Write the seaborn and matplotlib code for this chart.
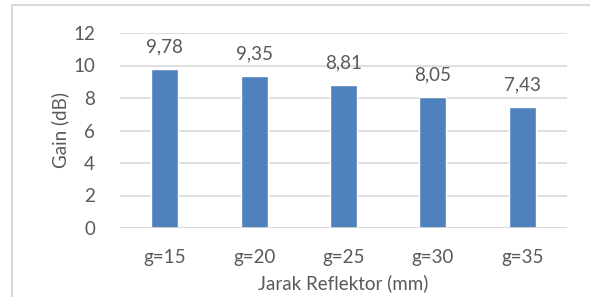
import numpy as np
import pandas as pd
import seaborn as sns
import matplotlib.pyplot as plt
from matplotlib.patches import Rectangle

# chart data
categories = ['g=15', 'g=20', 'g=25', 'g=30', 'g=35']
gain_db = [9.78, 9.35, 8.81, 8.05, 7.43]
value_labels = ['9,78', '9,35', '8,81', '8,05', '7,43']


def main():
    sns.set_style('white')
    plt.rcParams['font.family'] = ['Lato', 'DejaVu Sans']
    text_color = '#595959'
    grid_color = '#D9D9D9'
    fs = 13.5

    data = pd.DataFrame({'Jarak': categories, 'Gain': gain_db})

    fig = plt.figure(figsize=(5.9, 2.97), dpi=100)
    ax = fig.add_axes([120 / 590, 1 - 228 / 297, 447 / 590, 195 / 297])

    sns.barplot(data=data, x='Jarak', y='Gain', color='#4F81BD',
                saturation=1, width=0.30, ax=ax, zorder=3)

    # value labels above bars
    for i, (v, lab) in enumerate(zip(gain_db, value_labels)):
        ax.text(i, v + 0.85, lab, ha='center', va='bottom',
                fontsize=fs, color=text_color)

    ax.set_ylim(0, 12)
    ax.set_yticks(np.arange(0, 13, 2))
    ax.set_xlim(-0.5, len(categories) - 0.5)
    ax.yaxis.grid(True, color=grid_color, linewidth=1.2, zorder=0)
    for s in ax.spines.values():
        s.set_visible(False)
    ax.axhline(0, color=grid_color, linewidth=1.2, zorder=4)

    ax.tick_params(axis='both', length=0, labelsize=fs, colors=text_color)
    ax.tick_params(axis='x', pad=15)
    ax.tick_params(axis='y', pad=18)
    ax.set_xlabel('Jarak Reflektor (mm)', fontsize=fs, color=text_color, labelpad=6)
    ax.set_ylabel('Gain (dB)', fontsize=fs, color=text_color, labelpad=3)

    # chart-area border (cropped at right and bottom)
    fig.patches.append(Rectangle((12 / 590, -0.1), 1.0, 1.1 - 5 / 297,
                                 transform=fig.transFigure, fill=False,
                                 edgecolor=grid_color, linewidth=1.5))

    plt.savefig('out.png', dpi=100)
    plt.close()


if __name__ == "__main__":
    main()
